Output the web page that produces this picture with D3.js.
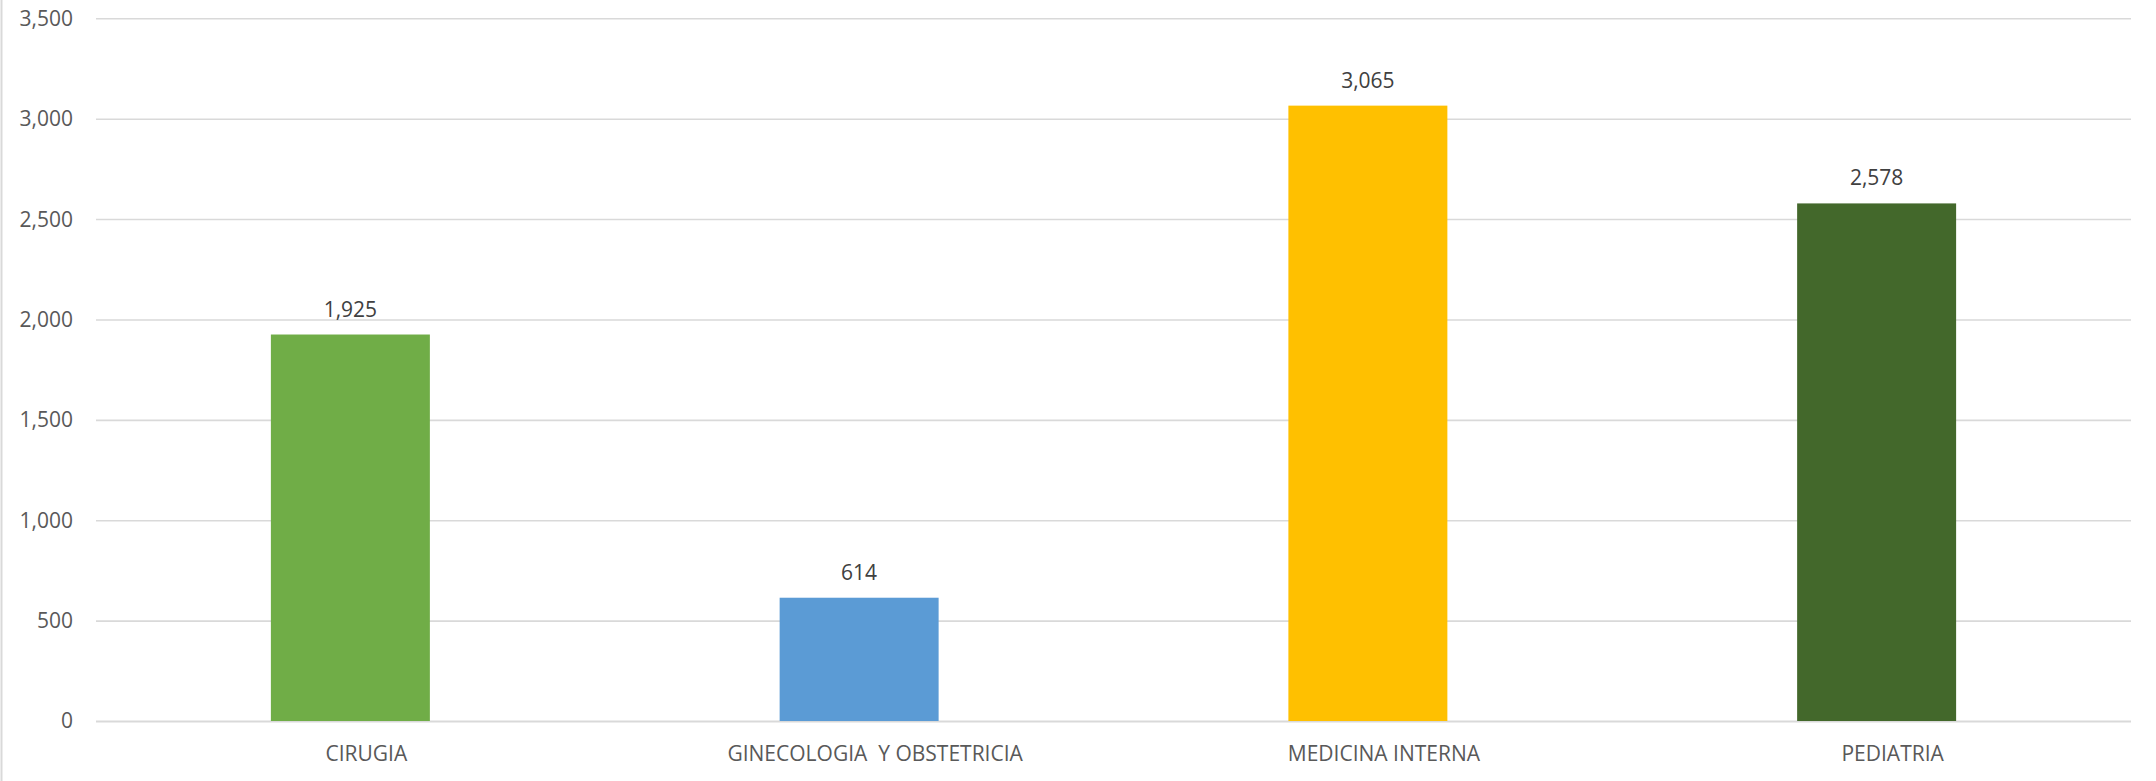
<!DOCTYPE html>
<html>
<head>
<meta charset="utf-8">
<script src="https://cdn.jsdelivr.net/npm/d3@7"></script>
<style>
  html, body { margin: 0; padding: 0; background: #fff; }
  svg { display: block; }
  text { font-family: "Open Sans", "Noto Sans", sans-serif; }
</style>
</head>
<body>
<script>
const categories = ["CIRUGIA", "GINECOLOGIA  Y OBSTETRICIA", "MEDICINA INTERNA", "PEDIATRIA"];
const values = [1925, 614, 3065, 2578];
const barColors = ["#70AD47", "#5B9BD5", "#FFC000", "#43682B"];
const yTicks = [0, 500, 1000, 1500, 2000, 2500, 3000, 3500];

const W = 2156, H = 781;
const plot = { left: 96, right: 2131, top: 18.3, bottom: 721 };

const svg = d3.select("body").append("svg")
  .attr("width", W).attr("height", H);

// left chart border
svg.append("line")
  .attr("x1", 1.5).attr("x2", 1.5).attr("y1", 0).attr("y2", H)
  .attr("stroke", "#d9d9d9").attr("stroke-width", 2);

const x = d3.scaleBand()
  .domain(categories)
  .range([plot.left, plot.right])
  .paddingInner(0.6875)
  .paddingOuter(0.34375);

const y = d3.scaleLinear()
  .domain([0, 3500])
  .range([plot.bottom, plot.top]);

const fmt = d3.format(",");

// gridlines via axis
const grid = svg.append("g")
  .attr("transform", `translate(${plot.left},0)`)
  .call(d3.axisLeft(y).tickValues(yTicks).tickSize(-(plot.right - plot.left)).tickFormat(""));
grid.select(".domain").remove();
grid.selectAll(".tick line")
  .attr("stroke", "#d9d9d9")
  .attr("stroke-width", d => d === 0 ? 2.2 : 1.6);

// y tick labels
const yAxis = svg.append("g")
  .attr("transform", `translate(73,0)`)
  .call(d3.axisLeft(y).tickValues(yTicks).tickSize(0).tickPadding(0).tickFormat(fmt));
yAxis.select(".domain").remove();
yAxis.selectAll(".tick text")
  .attr("font-family", "Open Sans")
  .attr("font-size", 21)
  .attr("fill", "#595959")
  .attr("dy", "0.33em");

// bars
svg.append("g").selectAll("rect")
  .data(values)
  .join("rect")
  .attr("x", (d, i) => x(categories[i]))
  .attr("width", x.bandwidth())
  .attr("y", d => y(d))
  .attr("height", d => y(0) - y(d))
  .attr("fill", (d, i) => barColors[i]);

// value labels
svg.append("g").selectAll("text")
  .data(values)
  .join("text")
  .attr("x", (d, i) => x(categories[i]) + x.bandwidth() / 2)
  .attr("y", d => y(d) - 18)
  .attr("text-anchor", "middle")
  .attr("font-size", 21)
  .attr("fill", "#404040")
  .text(d => fmt(d));

// x axis category labels
const xAxis = svg.append("g")
  .attr("transform", `translate(0,${plot.bottom})`)
  .call(d3.axisBottom(x).tickSize(0).tickPadding(0));
xAxis.select(".domain").remove();
xAxis.selectAll(".tick text")
  .attr("font-family", "Open Sans")
  .attr("font-size", 21)
  .attr("fill", "#595959")
  .attr("dy", 0)
  .attr("x", 16)
  .attr("y", 40)
  .style("white-space", "pre")
  .attr("xml:space", "preserve");
</script>
</body>
</html>
